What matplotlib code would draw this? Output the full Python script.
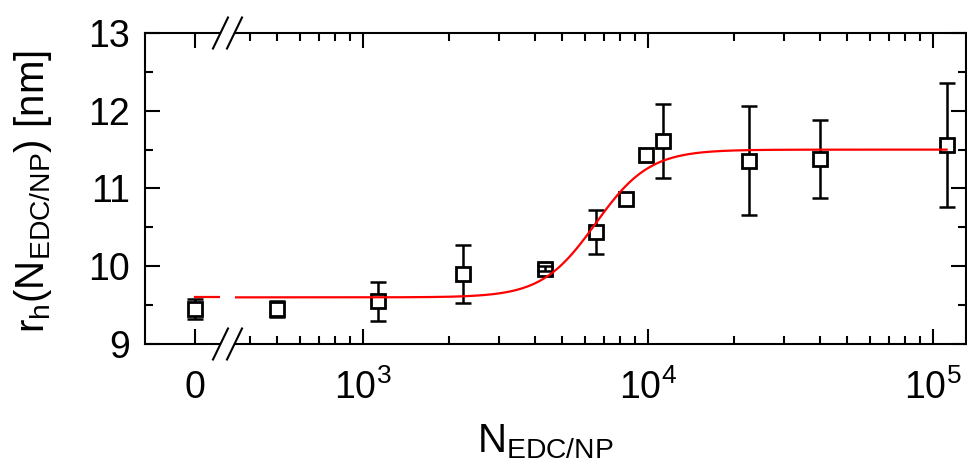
import numpy as np
import matplotlib
matplotlib.use("Agg")
import matplotlib.pyplot as plt
from matplotlib.lines import Line2D
from matplotlib.ticker import LogLocator, LogFormatterMathtext, MultipleLocator, NullFormatter, NullLocator

plt.rcParams['font.family'] = ['Liberation Sans', 'DejaVu Sans']
plt.rcParams['mathtext.default'] = 'regular'

# ---- data ----
# point at N = 0 (left, linear segment)
n_zero = [0]
r_zero = [9.45]
e_zero = [0.13]

# points on the log segment
n_log = [500, 1130, 2250, 4350, 6570, 8350, 9850, 11250, 22600, 40200, 111600]
r_log = [9.45, 9.55, 9.90, 9.97, 10.44, 10.86, 11.43, 11.61, 11.36, 11.38, 11.56]
e_log = [0.10, 0.25, 0.37, 0.03, 0.28, 0.0, 0.0, 0.48, 0.70, 0.50, 0.80]

# Hill-type fit curve parameters (red line)
fit_low = 9.6
fit_high = 11.5
fit_k = 6550.0
fit_n = 4.6
fit_range = [356.0, 111600.0]

x_tick_labels_left = ['0']
y_ticks = [9, 10, 11, 12, 13]


def hill(n):
    n = np.asarray(n, dtype=float)
    return fit_low + (fit_high - fit_low) * n**fit_n / (fit_k**fit_n + n**fit_n)


W, H = 967, 470
fig = plt.figure(figsize=(W / 100, H / 100), dpi=100)

yb, yt = 344, 33
axL = fig.add_axes([145 / W, (H - yb) / H, (220 - 145) / W, (yb - yt) / H])
axR = fig.add_axes([235 / W, (H - yb) / H, (966 - 235) / W, (yb - yt) / H], sharey=axL)

lw = 1.5
elw = 1.8
tick_kw = dict(direction='in', width=lw, labelsize=27)
mk = dict(ms=10, mfc='white', mec='black', mew=2.0)
eb = dict(ecolor='black', elinewidth=elw, capsize=6, capthick=elw)

# ---- left segment ----
axL.set_xlim(-1, 0.5)
axL.set_ylim(9, 13)
xl = np.array([0.0, 0.5])
axL.plot(xl, hill(xl), color='#ff0000', lw=1.6, zorder=4)
axL.errorbar(n_zero, r_zero, yerr=e_zero, fmt='none', zorder=2, **eb)
axL.plot(n_zero, r_zero, 's', zorder=3, linestyle='none', **mk)
axL.set_xticks(n_zero)
axL.set_xticklabels(x_tick_labels_left)
axL.set_yticks(y_ticks)
axL.yaxis.set_minor_locator(MultipleLocator(0.5))
axL.xaxis.set_minor_locator(NullLocator())
axL.spines['right'].set_visible(False)
for s in ['left', 'top', 'bottom']:
    axL.spines[s].set_linewidth(lw)
axL.tick_params(axis='x', which='major', top=True, bottom=True, length=11, pad=19, **tick_kw)
axL.tick_params(axis='y', which='major', left=True, right=False, length=11, pad=11, **tick_kw)
axL.tick_params(axis='y', which='minor', left=True, right=False, length=6, direction='in', width=lw)

fig.text(33 / W, 1 - 192 / H, r'r$_{h}$(N$_{EDC/NP}$) [nm]', fontsize=29, rotation=90,
         ha='center', va='center')

# ---- log segment ----
axR.set_xscale('log')
axR.set_xlim(355.5, 130560)
xs = np.logspace(np.log10(fit_range[0]), np.log10(fit_range[1]), 400)
axR.plot(xs, hill(xs), color='#ff0000', lw=1.6, zorder=4)
n_arr = np.array(n_log)
r_arr = np.array(r_log)
e_arr = np.array(e_log)
has_err = e_arr > 0
axR.errorbar(n_arr[has_err], r_arr[has_err], yerr=e_arr[has_err], fmt='none', zorder=2, **eb)
axR.plot(n_arr, r_arr, 's', zorder=3, linestyle='none', **mk)
small = has_err & (e_arr < 0.08)
axR.errorbar(n_arr[small], r_arr[small], yerr=e_arr[small], fmt='none', zorder=3.5, **eb)
axR.xaxis.set_major_locator(LogLocator(base=10, numticks=10))
axR.xaxis.set_major_formatter(LogFormatterMathtext())
axR.xaxis.set_minor_locator(LogLocator(base=10, subs=np.arange(2, 10), numticks=20))
axR.xaxis.set_minor_formatter(NullFormatter())
axR.spines['left'].set_visible(False)
for s in ['right', 'top', 'bottom']:
    axR.spines[s].set_linewidth(lw)
axR.tick_params(axis='x', which='major', top=True, bottom=True, length=11, pad=18, **tick_kw)
axR.tick_params(axis='x', which='minor', top=True, bottom=True, length=6, direction='in', width=lw)
axR.tick_params(axis='y', which='both', left=False, right=True, labelleft=False, labelright=False,
                direction='in', width=lw)
axR.tick_params(axis='y', which='major', length=11)
axR.tick_params(axis='y', which='minor', length=6)

fig.text(545 / W, 1 - 452 / H, r'N$_{EDC/NP}$', fontsize=29, ha='center', va='baseline')

# ---- break marks ----
for yc in (yt, yb):
    for xc in (220.5, 234.5):
        fig.add_artist(Line2D([(xc - 7.5) / W, (xc + 7.5) / W],
                              [1 - (yc + 15.5) / H, 1 - (yc - 15.5) / H],
                              transform=fig.transFigure, color='black', lw=lw))

fig.savefig('out.png', dpi=100)
